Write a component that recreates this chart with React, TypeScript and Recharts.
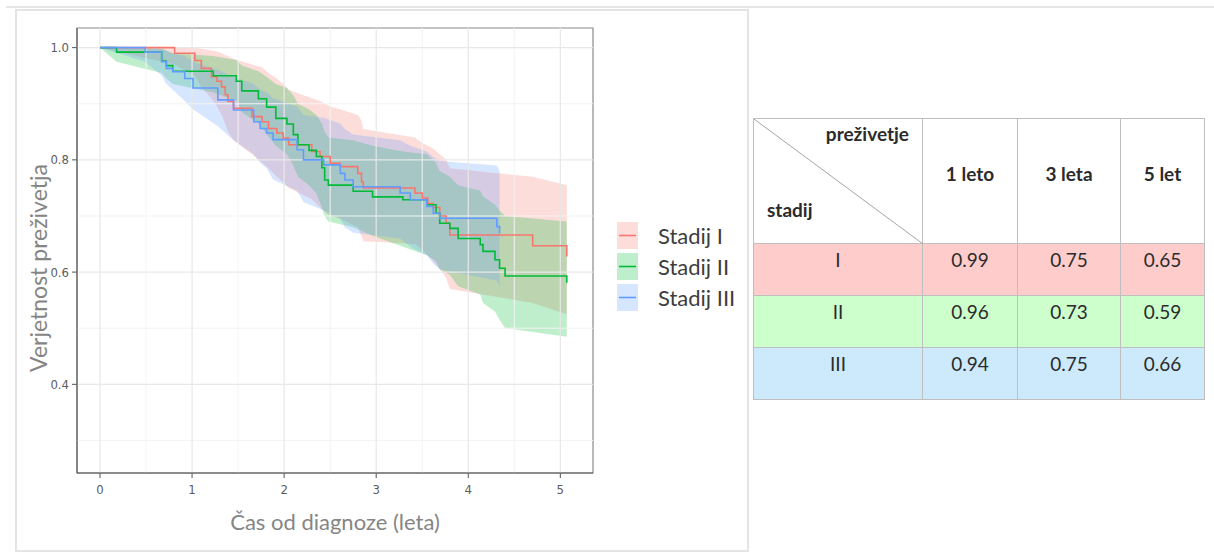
import React from 'react';
import { ComposedChart, Area, Line, XAxis, YAxis, ReferenceLine, ReferenceArea } from 'recharts';

// Kaplan-Meier steps (time in years, survival, 95% CI)
const stage1Time = [0, 0.81, 1.03, 1.1, 1.21, 1.27, 1.32, 1.36, 1.39, 1.45, 1.65, 1.76, 1.83, 1.92, 1.99, 2.05, 2.3, 2.39, 2.5, 2.61, 2.8, 2.84, 2.86, 3.42, 3.5, 3.56, 3.62, 3.69, 3.76, 3.8, 4.7, 5.07];
const stage1Surv = [1, 0.99, 0.977, 0.963, 0.948, 0.94, 0.93, 0.916, 0.904, 0.892, 0.877, 0.868, 0.856, 0.848, 0.839, 0.827, 0.815, 0.806, 0.794, 0.788, 0.776, 0.761, 0.75, 0.741, 0.732, 0.722, 0.715, 0.7, 0.687, 0.666, 0.647, 0.628];
const stage1Lower = [1, 0.97, 0.95, 0.93, 0.91, 0.895, 0.88, 0.865, 0.85, 0.835, 0.81, 0.795, 0.785, 0.77, 0.76, 0.75, 0.73, 0.715, 0.7, 0.695, 0.68, 0.665, 0.655, 0.65, 0.64, 0.63, 0.62, 0.605, 0.59, 0.57, 0.545, 0.525];
const stage1Upper = [1, 1, 1, 0.998, 0.995, 0.993, 0.99, 0.987, 0.985, 0.98, 0.97, 0.965, 0.955, 0.945, 0.935, 0.925, 0.91, 0.905, 0.895, 0.89, 0.88, 0.87, 0.855, 0.84, 0.83, 0.825, 0.82, 0.81, 0.8, 0.785, 0.77, 0.755];

const stage2Time = [0, 0.18, 0.67, 0.72, 0.79, 1.23, 1.48, 1.54, 1.72, 1.81, 1.91, 2.03, 2.1, 2.15, 2.27, 2.35, 2.41, 2.44, 2.48, 2.75, 2.96, 3.29, 3.55, 3.65, 3.69, 3.8, 3.89, 4.13, 4.16, 4.29, 4.34, 4.4, 5.07];
const stage2Surv = [1, 0.992, 0.976, 0.968, 0.958, 0.95, 0.94, 0.923, 0.909, 0.894, 0.874, 0.864, 0.845, 0.827, 0.817, 0.806, 0.786, 0.764, 0.755, 0.744, 0.734, 0.729, 0.72, 0.705, 0.687, 0.678, 0.66, 0.649, 0.637, 0.622, 0.607, 0.593, 0.581];
const stage2Lower = [1, 0.975, 0.955, 0.945, 0.935, 0.92, 0.905, 0.885, 0.865, 0.845, 0.825, 0.81, 0.79, 0.77, 0.755, 0.74, 0.715, 0.7, 0.69, 0.68, 0.665, 0.645, 0.63, 0.62, 0.605, 0.595, 0.575, 0.56, 0.545, 0.53, 0.515, 0.5, 0.485];
const stage2Upper = [1, 1, 0.998, 0.995, 0.99, 0.985, 0.978, 0.968, 0.958, 0.948, 0.935, 0.928, 0.915, 0.9, 0.89, 0.88, 0.865, 0.85, 0.84, 0.835, 0.825, 0.815, 0.81, 0.795, 0.78, 0.77, 0.755, 0.745, 0.735, 0.72, 0.71, 0.7, 0.69];

const stage3Time = [0, 0.49, 0.67, 0.72, 0.79, 0.92, 1.01, 1.28, 1.45, 1.67, 1.74, 1.81, 1.88, 2.14, 2.21, 2.43, 2.61, 2.66, 2.75, 3.26, 3.37, 3.55, 3.62, 3.69, 4.31, 4.34];
const stage3Surv = [1, 0.992, 0.975, 0.963, 0.957, 0.945, 0.928, 0.907, 0.889, 0.868, 0.856, 0.848, 0.836, 0.818, 0.8, 0.791, 0.776, 0.764, 0.752, 0.741, 0.729, 0.717, 0.705, 0.696, 0.681, 0.669];
const stage3Lower = [1, 0.975, 0.95, 0.935, 0.925, 0.905, 0.89, 0.86, 0.835, 0.81, 0.795, 0.785, 0.765, 0.745, 0.725, 0.71, 0.695, 0.68, 0.67, 0.66, 0.645, 0.63, 0.615, 0.605, 0.585, 0.575];
const stage3Upper = [1, 1, 0.998, 0.995, 0.99, 0.985, 0.975, 0.96, 0.948, 0.935, 0.925, 0.92, 0.91, 0.895, 0.88, 0.875, 0.865, 0.855, 0.845, 0.835, 0.825, 0.815, 0.805, 0.798, 0.79, 0.78];

const STAGE_NAMES = ['Stadij I', 'Stadij II', 'Stadij III'];
const STAGE_COLORS = ['#F8766D', '#00BA38', '#619CFF'];

const X_TICKS = [0, 1, 2, 3, 4, 5];
const X_MINOR = [0.5, 1.5, 2.5, 3.5, 4.5];
const Y_TICKS = [0.4, 0.6, 0.8, 1.0];
const Y_MINOR = [0.3, 0.5, 0.7, 0.9];
const X_DOMAIN = [-0.25, 5.355];
const Y_DOMAIN = [0.242, 1.035];

// table on the right
const TABLE_COLS = ['1 leto', '3 leta', '5 let'];
const TABLE_ROWS = ['I', 'II', 'III'];
const TABLE_VALUES = [
  ['0.99', '0.75', '0.65'],
  ['0.96', '0.73', '0.59'],
  ['0.94', '0.75', '0.66'],
];
const ROW_COLORS = ['#ffcccc', '#ccffcc', '#cdeafd'];

const buildRows = (time: number[], surv: number[], lower: number[], upper: number[]) =>
  time.map((t, i) => ({ t, surv: surv[i], band: [lower[i], upper[i]] }));

const series = [
  buildRows(stage1Time, stage1Surv, stage1Lower, stage1Upper),
  buildRows(stage2Time, stage2Surv, stage2Lower, stage2Upper),
  buildRows(stage3Time, stage3Surv, stage3Lower, stage3Upper),
];

const tickFont = { fill: '#5c5c5c', fontSize: 13, fontFamily: '"Liberation Sans Narrow", "DejaVu Sans Condensed", sans-serif' };
const titleFont = '"Lato", "Open Sans", sans-serif';

const SurvivalTable = () => {
  const colW = [169, 95, 103, 84];
  const border = '1px solid #bfbfbf';
  return (
    <table style={{ position: 'absolute', left: 753, top: 118, borderCollapse: 'collapse', tableLayout: 'fixed', width: 452, fontFamily: titleFont, color: '#2b2b2b' }}>
      <colgroup>
        {colW.map((w, i) => <col key={i} style={{ width: w }} />)}
      </colgroup>
      <tbody>
        <tr style={{ height: 125 }}>
          <td style={{ border, position: 'relative', padding: 0 }}>
            <svg width={169} height={125} style={{ position: 'absolute', left: 0, top: 0 }}>
              <line x1={0} y1={0} x2={169} y2={125} stroke="#a6a6a6" strokeWidth={1} />
            </svg>
            <span style={{ position: 'absolute', right: 13, top: 3, fontWeight: 700, fontSize: 19 }}>preživetje</span>
            <span style={{ position: 'absolute', left: 13, top: 79, fontWeight: 700, fontSize: 19 }}>stadij</span>
          </td>
          {TABLE_COLS.map(c => (
            <td key={c} style={{ border, textAlign: 'center', fontWeight: 700, fontSize: 19, paddingBottom: 16 }}>{c}</td>
          ))}
        </tr>
        {TABLE_ROWS.map((r, i) => (
          <tr key={r} style={{ height: 52, background: ROW_COLORS[i] }}>
            <td style={{ border, textAlign: 'center', verticalAlign: 'top', paddingTop: 4, fontSize: 19 }}>{r}</td>
            {TABLE_VALUES[i].map((v, j) => (
              <td key={j} style={{ border, textAlign: 'center', verticalAlign: 'top', paddingTop: 4, fontSize: 19 }}>{v}</td>
            ))}
          </tr>
        ))}
      </tbody>
    </table>
  );
};

const StageLegend = () => (
  <div style={{ position: 'absolute', left: 617, top: 220 }}>
    {STAGE_NAMES.map((name, i) => (
      <div key={name} style={{ display: 'flex', alignItems: 'center', height: 31 }}>
        <svg width={21} height={27}>
          <rect x={0} y={0} width={21} height={27} fill={STAGE_COLORS[i]} fillOpacity={0.25} />
          <line x1={2} x2={19} y1={13.5} y2={13.5} stroke={STAGE_COLORS[i]} strokeWidth={1.6} />
        </svg>
        <span style={{ marginLeft: 20, fontFamily: titleFont, fontSize: 22, color: '#3d3d3d', lineHeight: '27px' }}>{name}</span>
      </div>
    ))}
  </div>
);

const App = () => {
  return (
    <div style={{ position: 'absolute', left: 0, top: 0, width: 1214, height: 559, background: '#fff', overflow: 'hidden' }}>
      <div style={{ position: 'absolute', left: 6, top: 6, width: 1208, height: 2, background: '#e6e6e6' }} />
      <div style={{ position: 'absolute', left: 15, top: 9, width: 730, height: 539, border: '2px solid #e4e4e4' }} />
      <div style={{ position: 'absolute', left: 0, top: 0 }}>
        <ComposedChart width={748} height={559} margin={{ top: 28, right: 155, bottom: 56, left: 17 }}>
          <XAxis
            type="number"
            dataKey="t"
            domain={X_DOMAIN}
            ticks={X_TICKS}
            allowDataOverflow
            height={30}
            tickSize={5}
            tickMargin={7}
            stroke="#555"
            tick={tickFont}
          />
          <YAxis
            type="number"
            domain={Y_DOMAIN}
            ticks={Y_TICKS}
            allowDataOverflow
            width={60}
            tickSize={5}
            tickMargin={3}
            stroke="#555"
            tick={tickFont}
            tickFormatter={(v: number) => v.toFixed(1)}
          />
          {Y_MINOR.map(v => <ReferenceLine key={'ym' + v} y={v} stroke="#f3f3f3" strokeWidth={1} />)}
          {X_MINOR.map(v => <ReferenceLine key={'xm' + v} x={v} stroke="#f3f3f3" strokeWidth={1} />)}
          {Y_TICKS.map(v => <ReferenceLine key={'y' + v} y={v} stroke="#e8e8e8" strokeWidth={1.2} />)}
          {X_TICKS.map(v => <ReferenceLine key={'x' + v} x={v} stroke="#e8e8e8" strokeWidth={1.2} />)}
          <ReferenceArea x1={X_DOMAIN[0]} x2={X_DOMAIN[1]} y1={Y_DOMAIN[0]} y2={Y_DOMAIN[1]} fill="none" stroke="#8a8a8a" strokeWidth={1.2} />
          {series.map((rows, i) => (
            <Area
              key={'band' + i}
              data={rows}
              dataKey="band"
              type="linear"
              stroke="none"
              fill={STAGE_COLORS[i]}
              fillOpacity={0.25}
              isAnimationActive={false}
              dot={false}
              activeDot={false}
            />
          ))}
          {series.map((rows, i) => (
            <Line
              key={'line' + i}
              data={rows}
              dataKey="surv"
              type="stepAfter"
              stroke={STAGE_COLORS[i]}
              strokeWidth={1.6}
              dot={false}
              activeDot={false}
              isAnimationActive={false}
            />
          ))}
        </ComposedChart>
      </div>
      <div style={{ position: 'absolute', left: 38, top: 268, transform: 'translate(-50%, -50%) rotate(-90deg)', whiteSpace: 'nowrap', fontFamily: titleFont, fontSize: 23, color: '#858585' }}>
        Verjetnost preživetja
      </div>
      <div style={{ position: 'absolute', left: 335, top: 521, transform: 'translate(-50%, -50%)', whiteSpace: 'nowrap', fontFamily: titleFont, fontSize: 22, color: '#858585' }}>
        Čas od diagnoze (leta)
      </div>
      <StageLegend />
      <SurvivalTable />
    </div>
  );
};

export default App;
